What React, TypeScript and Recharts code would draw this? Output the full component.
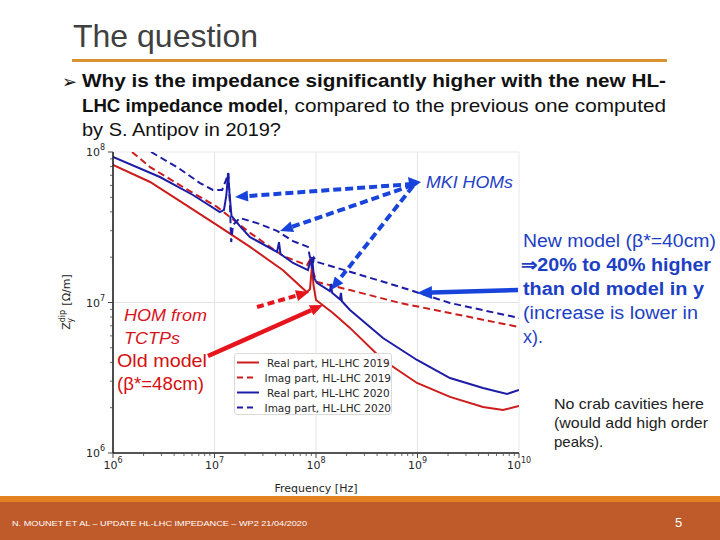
import React from 'react';
import { LineChart, Line, XAxis, YAxis, ReferenceLine, Legend } from 'recharts';

// ---------- tick values ----------
const xTickValues = [
  1e6, 2e6, 3e6, 4e6, 5e6, 6e6, 7e6, 8e6, 9e6,
  1e7, 2e7, 3e7, 4e7, 5e7, 6e7, 7e7, 8e7, 9e7,
  1e8, 2e8, 3e8, 4e8, 5e8, 6e8, 7e8, 8e8, 9e8,
  1e9, 2e9, 3e9, 4e9, 5e9, 6e9, 7e9, 8e9, 9e9,
  1e10,
];
const yTickValues = [
  1e6, 2e6, 3e6, 4e6, 5e6, 6e6, 7e6, 8e6, 9e6,
  1e7, 2e7, 3e7, 4e7, 5e7, 6e7, 7e7, 8e7, 9e7,
  1e8,
];
const xGridValues = [1e7, 1e8, 1e9];
const yGridValues = [1e7];

// ---------- series (frequency [Hz], impedance [Ohm/m]) ----------
const real2019F = [1e6, 2.32e6, 4.9e6, 1.06e7, 2.24e7, 4.73e7, 8.15e7, 8.73e7, 9.14e7, 9.44e7, 1.0e8, 1.47e8, 2.16e8, 4.57e8, 9.89e8, 2.09e9, 4.42e9, 6.95e9, 1e10];
const real2019Z = [8.2e7, 6.32e7, 4.58e7, 3.27e7, 2.34e7, 1.64e7, 1.17e7, 1.23e7, 1.77e7, 1.31e7, 1.04e7, 8.51e6, 6.78e6, 4.15e6, 2.92e6, 2.36e6, 2.02e6, 1.93e6, 2.05e6];

const imag2019F = [1.54e6, 2.32e6, 4.9e6, 1.06e7, 2.24e7, 4.73e7, 8.15e7, 8.93e7, 9.33e7, 1.02e8, 2.16e8, 6.73e8, 2.09e9, 1e10];
const imag2019Z = [1e8, 7.94e7, 5.85e7, 4.32e7, 2.9e7, 2.04e7, 1.77e7, 1.98e7, 1.6e7, 1.37e7, 1.21e7, 9.93e6, 8.51e6, 6.87e6];

const real2020F = [1e6, 2.9e6, 6.14e6, 1.13e7, 1.24e7, 1.31e7, 1.36e7, 1.41e7, 1.47e7, 1.78e7, 2.24e7, 4.13e7, 4.32e7, 4.47e7, 5.93e7, 8.34e7, 8.73e7, 9.14e7, 9.55e7, 1.02e8, 1.37e8, 1.41e8, 1.44e8, 1.72e8, 1.76e8, 1.8e8, 2.16e8, 4.57e8, 9.89e8, 2.09e9, 4.42e9, 7.62e9, 1e10];
const real2020Z = [9.27e7, 6.82e7, 5.18e7, 3.99e7, 4.12e7, 5.18e7, 7.24e7, 5.18e7, 3.76e7, 3.22e7, 2.72e7, 2.17e7, 2.52e7, 2.1e7, 1.83e7, 1.64e7, 1.86e7, 2.0e7, 1.46e7, 1.35e7, 1.19e7, 1.33e7, 1.16e7, 1.05e7, 1.16e7, 1.02e7, 8.91e6, 5.81e6, 4.15e6, 3.15e6, 2.7e6, 2.47e6, 2.62e6];

const imag2020F = [2.37e6, 4.28e6, 7.19e6, 9.66e6, 1.19e7, 1.3e7, 1.37e7, 1.42e7, 1.46e7, 1.52e7, 1.78e7, 2.63e7, 4.13e7, 5.93e7, 8.34e7, 9.14e7, 9.55e7, 1.02e8, 2.16e8, 6.73e8, 2.09e9, 1e10];
const imag2020Z = [1e8, 7.94e7, 6.22e7, 5.6e7, 5.6e7, 6.52e7, 7.24e7, 4.45e7, 2.52e7, 3.27e7, 3.64e7, 3.37e7, 2.99e7, 2.56e7, 2.34e7, 1.69e7, 1.98e7, 1.86e7, 1.6e7, 1.27e7, 9.93e6, 7.89e6];

const seriesNames = ['Real part, HL-LHC 2019', 'Imag part, HL-LHC 2019', 'Real part, HL-LHC 2020', 'Imag part, HL-LHC 2020'];

const RED = '#cc1c1c';
const BLUE = '#1c1ca6';
const ANN_BLUE = '#1844dc';
const ANN_RED = '#e6141c';

const zip = (f: number[], z: number[]) => f.map((v, i) => ({ f: v, z: z[i] }));
const real2019 = zip(real2019F, real2019Z);
const imag2019 = zip(imag2019F, imag2019Z);
const real2020 = zip(real2020F, real2020Z);
const imag2020 = zip(imag2020F, imag2020Z);

const legendStyles = [
  { color: RED, dash: undefined },
  { color: RED, dash: '6 4' },
  { color: BLUE, dash: undefined },
  { color: BLUE, dash: '6 4' },
];

const isMajor = (v: number) => Math.abs(Math.log10(v) - Math.round(Math.log10(v))) < 1e-6;

const XTick = (props: any) => {
  const { x, y, payload } = props;
  const v = payload.value;
  const major = isMajor(v);
  return (
    <g>
      <line x1={x} x2={x} y1={y} y2={y + (major ? 5 : 3)} stroke="#444" strokeWidth={major ? 1 : 0.8} />
      {major && (
        <text x={x} y={y + 16} textAnchor="middle" fontFamily="DejaVu Sans" fontSize={11} fill="#262626">
          10<tspan dy={-6} fontSize={8}>{Math.round(Math.log10(v))}</tspan>
        </text>
      )}
    </g>
  );
};

const YTick = (props: any) => {
  const { x, y, payload } = props;
  const v = payload.value;
  const major = isMajor(v);
  return (
    <g>
      <line x1={x} x2={x - (major ? 5 : 3)} y1={y} y2={y} stroke="#444" strokeWidth={major ? 1 : 0.8} />
      {major && (
        <text x={x - 8} y={y + 4} textAnchor="end" fontFamily="DejaVu Sans" fontSize={11} fill="#262626">
          10<tspan dy={-6} fontSize={8}>{Math.round(Math.log10(v))}</tspan>
        </text>
      )}
    </g>
  );
};

const LegendBox = () => (
  <div
    style={{
      width: 158,
      height: 62,
      boxSizing: 'border-box',
      border: '1px solid #dadada',
      borderRadius: 3,
      background: 'rgba(255,255,255,0.9)',
      fontFamily: 'DejaVu Sans',
      fontSize: 10.5,
      color: '#262626',
      paddingTop: 1,
      paddingLeft: 2,
    }}
  >
    {seriesNames.map((n, i) => (
      <div key={n} style={{ height: 15, display: 'flex', alignItems: 'center', whiteSpace: 'nowrap' }}>
        <svg width={22} height={15} style={{ display: 'block' }}>
          <line x1={0} x2={22} y1={7.5} y2={7.5} stroke={legendStyles[i].color} strokeWidth={2} strokeDasharray={legendStyles[i].dash} />
        </svg>
        <span style={{ marginLeft: 8 }}>{n}</span>
      </div>
    ))}
  </div>
);

function Arrow({ x1, y1, x2, y2, color, dash, w = 4, head = 13, hw = 11 }: any) {
  const ang = Math.atan2(y2 - y1, x2 - x1);
  const bx = x2 - head * Math.cos(ang);
  const by = y2 - head * Math.sin(ang);
  const px = (-Math.sin(ang) * hw) / 2;
  const py = (Math.cos(ang) * hw) / 2;
  return (
    <g>
      <line x1={x1} y1={y1} x2={bx} y2={by} stroke={color} strokeWidth={w} strokeDasharray={dash} />
      <polygon points={`${x2},${y2} ${bx + px},${by + py} ${bx - px},${by - py}`} fill={color} />
    </g>
  );
}

export default function App() {
  const lineCommon = { dot: false, isAnimationActive: false, dataKey: 'z', strokeWidth: 2, type: 'linear' as const };
  return (
    <div style={{ position: 'absolute', left: 0, top: 0, width: 720, height: 540, overflow: 'hidden', background: '#fff' }}>
      <div style={{ position: 'absolute', left: 0, top: 0 }}>
        <LineChart width={720} height={540} margin={{ top: 152, right: 201, bottom: 57, left: 63 }}>
          <XAxis
            type="number"
            dataKey="f"
            scale="log"
            domain={[1e6, 1e10]}
            allowDataOverflow
            ticks={xTickValues}
            interval={0}
            tick={<XTick />}
            tickLine={false}
            tickSize={0}
            tickMargin={0}
            height={30}
            axisLine={{ stroke: '#555', strokeWidth: 2 }}
          />
          <YAxis
            type="number"
            dataKey="z"
            scale="log"
            domain={[1e6, 1e8]}
            allowDataOverflow
            ticks={yTickValues}
            interval={0}
            tick={<YTick />}
            tickLine={false}
            tickSize={0}
            tickMargin={0}
            width={50}
            axisLine={{ stroke: '#111', strokeWidth: 1.5 }}
          />
          {xGridValues.map((v) => (
            <ReferenceLine key={'gx' + v} x={v} stroke="#e4e4e4" strokeWidth={1} />
          ))}
          {yGridValues.map((v) => (
            <ReferenceLine key={'gy' + v} y={v} stroke="#e4e4e4" strokeWidth={1} />
          ))}
          <ReferenceLine y={1e8} stroke="#e8e8e8" strokeWidth={1} />
          <ReferenceLine x={1e10} stroke="#e8e8e8" strokeWidth={1} />
          <Line {...lineCommon} data={real2019} name={seriesNames[0]} stroke={RED} />
          <Line {...lineCommon} data={imag2019} name={seriesNames[1]} stroke={RED} strokeDasharray="7 4" />
          <Line {...lineCommon} data={real2020} name={seriesNames[2]} stroke={BLUE} />
          <Line {...lineCommon} data={imag2020} name={seriesNames[3]} stroke={BLUE} strokeDasharray="7 4" />
          <Legend
            layout="vertical"
            align="center"
            verticalAlign="middle"
            content={<LegendBox />}
            wrapperStyle={{ position: 'absolute', left: 234, top: 353, width: 158, height: 62 }}
          />
        </LineChart>
      </div>

      <svg width={720} height={540} style={{ position: 'absolute', left: 0, top: 0, pointerEvents: 'none' }}>
        {/* Title */}
        <text x={73} y={47} fontFamily="Liberation Sans" fontSize={32} fill="#404040">The question</text>
        <rect x={72} y={59} width={595} height={3} fill="#d8922e" />

        {/* Bullet */}
        <text x={62} y={88} fontFamily="DejaVu Sans" fontSize={18} fill="#111">➢</text>
        <text x={82} y={87} fontFamily="Liberation Sans" fontSize={19} fontWeight="bold" fill="#111" textLength={584} lengthAdjust="spacingAndGlyphs">
          Why is the impedance significantly higher with the new HL-
        </text>
        <text x={82} y={112} fontFamily="Liberation Sans" fontSize={19} fontWeight="bold" fill="#111" textLength={201} lengthAdjust="spacingAndGlyphs">
          LHC impedance model
        </text>
        <text x={283} y={112} fontFamily="Liberation Sans" fontSize={19} fill="#111" textLength={383} lengthAdjust="spacingAndGlyphs">
          , compared to the previous one computed
        </text>
        <text x={82} y={136} fontFamily="Liberation Sans" fontSize={19} fill="#111" textLength={199} lengthAdjust="spacingAndGlyphs">
          by S. Antipov in 2019?
        </text>

        {/* Axis labels */}
        <text transform="translate(70,302) rotate(-90)" textAnchor="middle" fontFamily="DejaVu Sans" fontSize={11} fill="#262626">
          Z<tspan dy={-5} fontSize={8}>dip</tspan>
          <tspan dx={-13} dy={8} fontSize={8}>y</tspan>
          <tspan dx={9} dy={-3}> [Ω/m]</tspan>
        </text>
        <text x={316} y={492} textAnchor="middle" fontFamily="DejaVu Sans" fontSize={11} fill="#262626">Frequency [Hz]</text>

        {/* MKI HOMs annotation */}
        <Arrow x1={413} y1={184} x2={235} y2={197} color={ANN_BLUE} dash="8 4" />
        <Arrow x1={413} y1={185} x2={280} y2={231} color={ANN_BLUE} dash="8 4" />
        <Arrow x1={413} y1={186} x2={331} y2={290} color={ANN_BLUE} dash="8 4" />
        <polygon points="421,182 408,177 410,190" fill={ANN_BLUE} />
        <text x={426} y={188} fontFamily="Liberation Sans" fontStyle="italic" fontSize={16.5} fill="#1f40c8" textLength={87} lengthAdjust="spacingAndGlyphs">
          MKI HOMs
        </text>

        {/* New model arrow */}
        <Arrow x1={518} y1={290} x2={417} y2={293} color={ANN_BLUE} w={4.5} head={15} hw={13} />

        {/* Red annotations */}
        <Arrow x1={257} y1={307} x2={309} y2={292} color={ANN_RED} dash="7 4" />
        <Arrow x1={208} y1={356} x2={323} y2={305} color={ANN_RED} w={4.5} />
        <text x={124} y={321} fontFamily="Liberation Sans" fontStyle="italic" fontSize={17} fill="#d8141c" textLength={83} lengthAdjust="spacingAndGlyphs">HOM from</text>
        <text x={124} y={344} fontFamily="Liberation Sans" fontStyle="italic" fontSize={17} fill="#d8141c" textLength={56} lengthAdjust="spacingAndGlyphs">TCTPs</text>
        <text x={117} y={367} fontFamily="Liberation Sans" fontSize={19} fill="#d41010" textLength={90} lengthAdjust="spacingAndGlyphs">Old model</text>
        <text x={117} y={390} fontFamily="Liberation Sans" fontSize={19} fill="#d41010" textLength={87} lengthAdjust="spacingAndGlyphs">(β*=48cm)</text>

        {/* Right blue text */}
        <text x={523} y={247} fontFamily="Liberation Sans" fontSize={18} fill="#1d3fc4" textLength={193} lengthAdjust="spacingAndGlyphs">New model (β*=40cm)</text>
        <text x={521} y={271} fontFamily="Liberation Sans" fontSize={18} fontWeight="bold" fill="#1d3fc4" textLength={190} lengthAdjust="spacingAndGlyphs">⇒20% to 40% higher</text>
        <text x={523} y={295} fontFamily="Liberation Sans" fontSize={18} fontWeight="bold" fill="#1d3fc4" textLength={181} lengthAdjust="spacingAndGlyphs">than old model in y</text>
        <text x={523} y={319} fontFamily="Liberation Sans" fontSize={18} fill="#1d3fc4" textLength={175} lengthAdjust="spacingAndGlyphs">(increase is lower in</text>
        <text x={523} y={343} fontFamily="Liberation Sans" fontSize={18} fill="#1d3fc4">x).</text>

        {/* Crab cavities note */}
        <text x={554} y={409} fontFamily="Liberation Sans" fontSize={15} fill="#222" textLength={150} lengthAdjust="spacingAndGlyphs">No crab cavities here</text>
        <text x={554} y={428} fontFamily="Liberation Sans" fontSize={15} fill="#222" textLength={154} lengthAdjust="spacingAndGlyphs">(would add high order</text>
        <text x={554} y={447} fontFamily="Liberation Sans" fontSize={15} fill="#222">peaks).</text>

        {/* Footer */}
        <rect x={0} y={496} width={720} height={6} fill="#e3801f" />
        <rect x={0} y={502} width={720} height={38} fill="#bf5a2b" />
        <text x={12} y={526} fontFamily="Liberation Sans" fontSize={8} fill="#fff" textLength={295} lengthAdjust="spacingAndGlyphs">
          N. MOUNET ET AL – UPDATE HL-LHC IMPEDANCE – WP2 21/04/2020
        </text>
        <text x={675} y={527} fontFamily="Liberation Sans" fontSize={13} fill="#fff">5</text>
      </svg>
    </div>
  );
}
